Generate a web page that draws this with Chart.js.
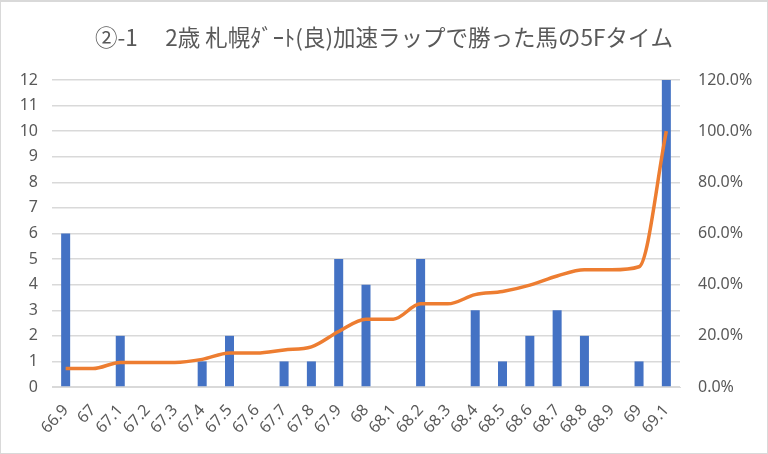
<!DOCTYPE html>
<html>
<head>
<meta charset="utf-8">
<script src="https://cdn.jsdelivr.net/npm/chart.js@4"></script>
<style>
    html, body { margin: 0; padding: 0; background: #fff; }
    #wrap { position: relative; width: 768px; height: 454px; box-sizing: border-box; border: 1px solid #d9d9d9; border-top-width: 2px; }
    canvas { position: absolute; left: -1px; top: -2px; }
</style>
</head>
<body>
<div id="wrap"><canvas id="chart" width="768" height="454"></canvas></div>
<script>
// finish times (5F) and counts
const times = ['66.9', '67', '67.1', '67.2', '67.3', '67.4', '67.5', '67.6', '67.7', '67.8', '67.9', '68',
    '68.1', '68.2', '68.3', '68.4', '68.5', '68.6', '68.7', '68.8', '68.9', '69', '69.1'];
const counts = [6, 0, 2, 0, 0, 1, 2, 0, 1, 1, 5, 4, 0, 5, 0, 3, 1, 2, 3, 2, 0, 1, 12];
// cumulative share, percent
const cumulative = [7.2, 7.2, 9.6, 9.6, 9.6, 10.8, 13.3, 13.3, 14.5, 15.7, 21.7, 26.5,
    26.5, 32.5, 32.5, 36.1, 37.3, 39.8, 43.4, 45.8, 45.8, 47.0, 100];

const titleText = '②-1\u3000 2歳 札幌ﾀﾞｰﾄ(良)加速ラップで勝った馬の5Fタイム';
const textColor = '#595959';
const gridColor = '#d9d9d9';
const tickFont = { family: 'Noto Sans', size: 16 };

const ctx = document.getElementById('chart').getContext('2d');
new Chart(ctx, {
    type: 'bar',
    data: {
        labels: times,
        datasets: [{
            type: 'line',
            data: cumulative,
            yAxisID: 'yr',
            borderColor: '#ED7D31',
            borderWidth: 3.5,
            pointRadius: 0,
            cubicInterpolationMode: 'monotone',
            order: 0
        }, {
            data: counts,
            yAxisID: 'y',
            backgroundColor: '#4472C4',
            barPercentage: 0.33,
            categoryPercentage: 1,
            order: 1
        }]
    },
    options: {
        responsive: false,
        animation: false,
        layout: { padding: 0 },
        plugins: {
            legend: { display: false },
            tooltip: { enabled: false },
            title: {
                display: true,
                text: titleText,
                color: textColor,
                font: { family: 'Noto Sans CJK JP', size: 22.5, weight: 'normal' },
                padding: { top: 24, bottom: 29 }
            }
        },
        scales: {
            x: {
                grid: { display: false, drawTicks: false },
                border: { color: gridColor },
                ticks: {
                    color: textColor,
                    font: tickFont,
                    minRotation: 48,
                    maxRotation: 48,
                    autoSkip: false,
                    padding: 14
                },
                afterFit: function (scale) { scale.height = 67; }
            },
            y: {
                position: 'left',
                min: 0,
                max: 12,
                grid: { color: gridColor, drawTicks: false, lineWidth: 1.5 },
                border: { display: false },
                ticks: {
                    stepSize: 1,
                    color: textColor,
                    font: tickFont,
                    padding: 14
                },
                afterFit: function (scale) { scale.width = 52; }
            },
            yr: {
                position: 'right',
                min: 0,
                max: 120,
                grid: { display: false, drawTicks: false },
                border: { display: false },
                ticks: {
                    stepSize: 20,
                    color: textColor,
                    font: tickFont,
                    padding: 18,
                    callback: function (value) { return value.toFixed(1) + '%'; }
                },
                afterFit: function (scale) { scale.width = 88; }
            }
        }
    }
});
</script>
</body>
</html>
